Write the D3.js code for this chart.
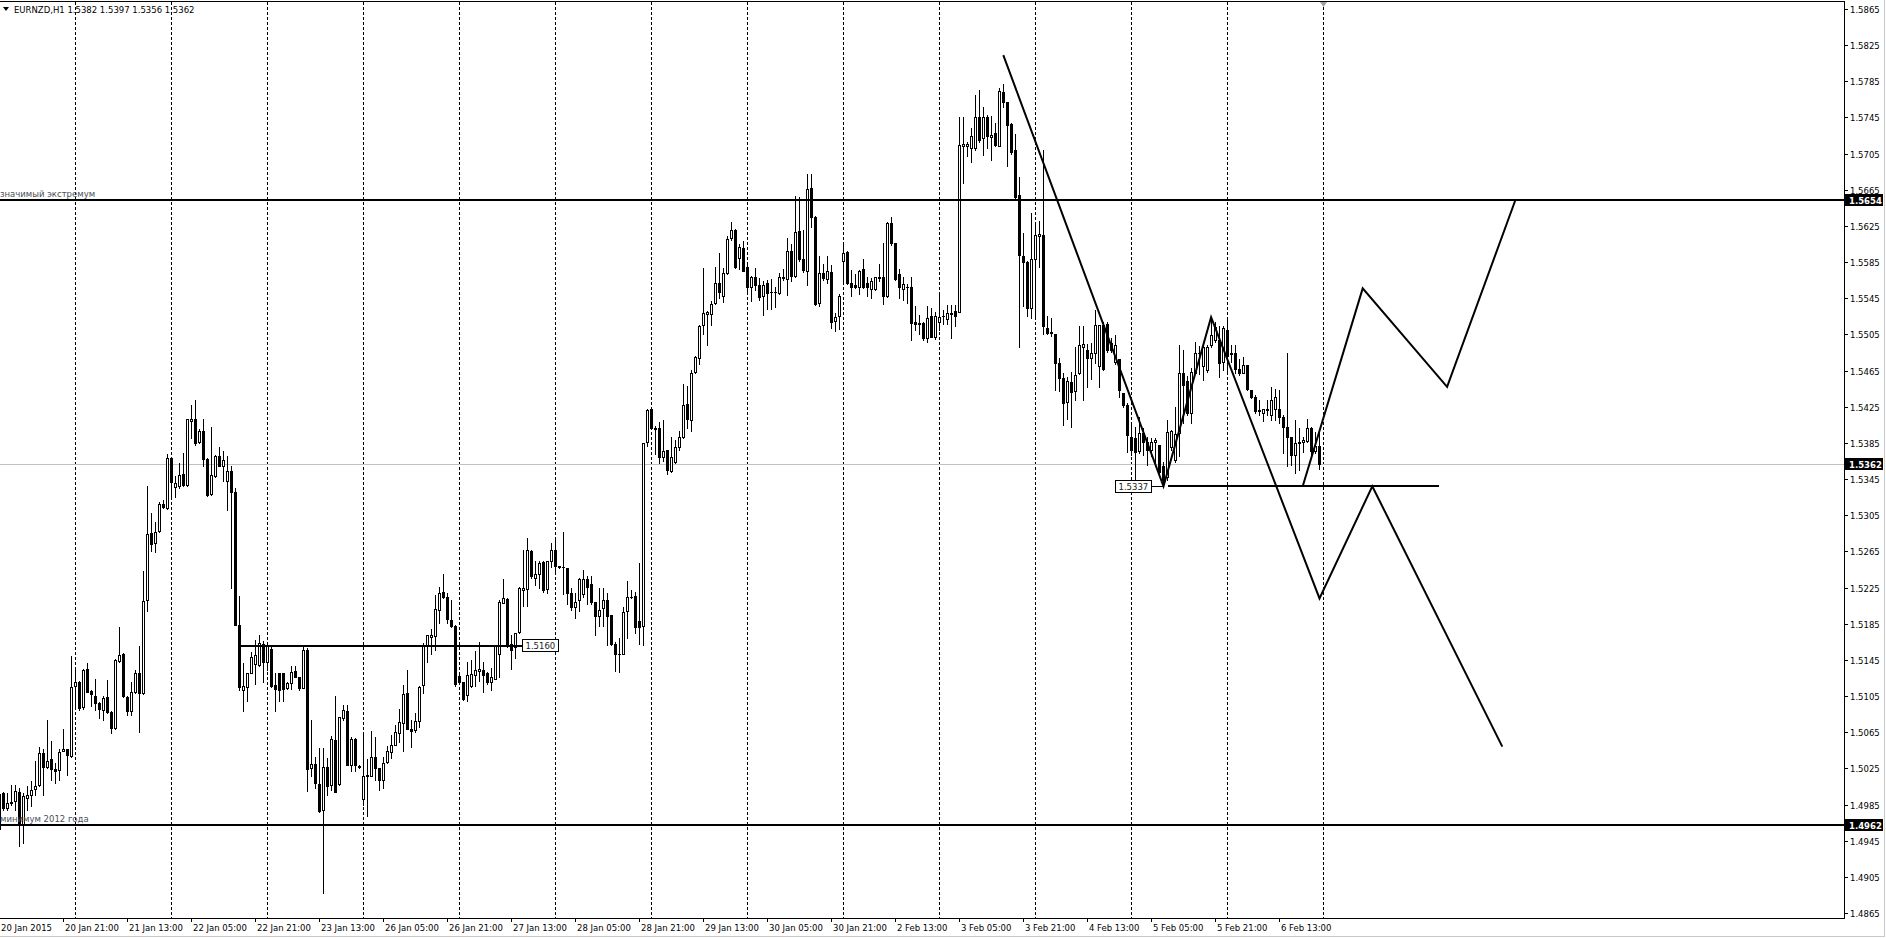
<!DOCTYPE html>
<html>
<head>
<meta charset="utf-8">
<script src="https://cdn.jsdelivr.net/npm/d3@7"></script>
<style>
body { margin: 0; background: #fff; }
svg { display: block; }
text { font-family: "DejaVu Sans", sans-serif; font-size: 8.5px; }
</style>
</head>
<body>
<script>
// EURNZD H1, one entry per hourly bar, first bar 20 Jan 2015 05:00
var opens = [
1.4958,1.4998,1.4981,1.4987,1.4989,1.4999,1.4963,1.4992,1.4995,1.5002,
1.5007,1.5042,1.5027,1.5035,1.5024,1.5023,1.5044,1.5046,1.5039,1.5116,
1.5121,1.5093,1.5135,1.5111,1.5105,1.5097,1.5090,1.5104,1.5087,1.5070,
1.5144,1.5152,1.5104,1.5089,1.5109,1.5131,1.5108,1.5211,1.5285,1.5274,
1.5288,1.5317,1.5313,1.5368,1.5336,1.5337,1.5351,1.5338,1.5409,1.5411,
1.5386,1.5398,1.5367,1.5328,1.5348,1.5371,1.5360,1.5343,1.5354,1.5331,
1.5184,1.5112,1.5115,1.5131,1.5140,1.5139,1.5163,1.5143,1.5157,1.5117,
1.5131,1.5131,1.5114,1.5119,1.5133,1.5126,1.5114,1.5156,1.5025,1.5030,
1.5008,1.4979,1.5026,1.5007,1.5056,1.5008,1.5081,1.5088,1.5029,1.5058,
1.5026,1.4991,1.5016,1.5017,1.5038,1.5025,1.5012,1.5032,1.5043,1.5051,
1.5064,1.5075,1.5108,1.5069,1.5067,1.5077,1.5117,1.5162,1.5170,1.5171,
1.5200,1.5220,1.5215,1.5189,1.5183,1.5127,1.5120,1.5106,1.5116,1.5128,
1.5133,1.5134,1.5130,1.5120,1.5124,1.5151,1.5208,1.5212,1.5163,1.5159,
1.5176,1.5222,1.5223,1.5265,1.5236,1.5240,1.5253,1.5223,1.5254,1.5267,
1.5249,1.5248,1.5247,1.5219,1.5203,1.5211,1.5218,1.5234,1.5229,1.5209,
1.5193,1.5202,1.5211,1.5195,1.5163,1.5151,1.5152,1.5199,1.5215,1.5216,
1.5188,1.5182,1.5386,1.5422,1.5402,1.5402,1.5369,1.5377,1.5354,1.5364,
1.5380,1.5392,1.5428,1.5410,1.5463,1.5479,1.5515,1.5528,1.5528,1.5540,
1.5562,1.5547,1.5573,1.5612,1.5620,1.5590,1.5601,1.5580,1.5558,1.5568,
1.5560,1.5547,1.5562,1.5552,1.5552,1.5551,1.5567,1.5566,1.5597,1.5570,
1.5619,1.5589,1.5575,1.5667,1.5635,1.5540,1.5573,1.5566,1.5574,1.5520,
1.5525,1.5586,1.5596,1.5562,1.5560,1.5558,1.5577,1.5562,1.5555,1.5555,
1.5568,1.5568,1.5547,1.5628,1.5606,1.5572,1.5555,1.5557,1.5558,1.5519,
1.5518,1.5518,1.5501,1.5525,1.5502,1.5519,1.5525,1.5522,1.5529,1.5531,
1.5530,1.5714,1.5714,1.5711,1.5711,1.5746,1.5722,1.5746,1.5723,1.5728,
1.5714,1.5773,1.5762,1.5738,1.5709,1.5659,1.5592,1.5585,1.5534,1.5589,
1.5614,1.5615,1.5512,1.5507,1.5506,1.5473,1.5457,1.5430,1.5452,1.5442,
1.5462,1.5491,1.5488,1.5479,1.5484,1.5470,1.5515,1.5517,1.5495,1.5474,
1.5478,1.5440,1.5427,1.5392,1.5390,1.5376,1.5396,1.5386,1.5377,1.5386,
1.5383,1.5360,1.5347,1.5381,1.5366,1.5396,1.5462,1.5453,1.5418,1.5462,
1.5484,1.5470,1.5466,1.5493,1.5499,1.5499,1.5475,1.5510,1.5485,1.5484,
1.5467,1.5462,1.5471,1.5444,1.5436,1.5420,1.5418,1.5422,1.5416,1.5422,
1.5422,1.5414,1.5403,1.5392,1.5372,1.5385,1.5386,1.5387,1.5401,1.5376,
1.5382
];
var highs = [
1.4990,1.4999,1.4998,1.5007,1.5007,1.5003,1.4998,1.5005,1.5011,1.5033,
1.5049,1.5046,1.5079,1.5055,1.5031,1.5046,1.5068,1.5046,1.5149,1.5134,
1.5122,1.5135,1.5142,1.5112,1.5124,1.5098,1.5105,1.5123,1.5088,1.5146,
1.5181,1.5153,1.5105,1.5121,1.5134,1.5160,1.5243,1.5337,1.5308,1.5298,
1.5320,1.5322,1.5373,1.5368,1.5348,1.5363,1.5374,1.5411,1.5427,1.5432,
1.5400,1.5411,1.5368,1.5403,1.5372,1.5381,1.5376,1.5371,1.5360,1.5335,
1.5216,1.5142,1.5131,1.5154,1.5167,1.5172,1.5166,1.5164,1.5160,1.5131,
1.5131,1.5131,1.5121,1.5138,1.5138,1.5126,1.5161,1.5158,1.5079,1.5038,
1.5048,1.5048,1.5037,1.5061,1.5105,1.5082,1.5095,1.5095,1.5060,1.5059,
1.5029,1.5065,1.5035,1.5066,1.5060,1.5025,1.5038,1.5050,1.5062,1.5073,
1.5091,1.5117,1.5134,1.5079,1.5086,1.5116,1.5164,1.5173,1.5179,1.5217,
1.5226,1.5240,1.5219,1.5211,1.5184,1.5129,1.5121,1.5143,1.5145,1.5155,
1.5165,1.5143,1.5132,1.5136,1.5161,1.5211,1.5234,1.5213,1.5173,1.5175,
1.5226,1.5267,1.5280,1.5266,1.5254,1.5254,1.5254,1.5254,1.5274,1.5278,
1.5249,1.5286,1.5247,1.5224,1.5219,1.5236,1.5244,1.5238,1.5238,1.5209,
1.5224,1.5224,1.5219,1.5195,1.5165,1.5169,1.5203,1.5232,1.5222,1.5220,
1.5252,1.5385,1.5422,1.5423,1.5404,1.5408,1.5410,1.5377,1.5392,1.5388,
1.5398,1.5450,1.5448,1.5466,1.5481,1.5515,1.5578,1.5531,1.5542,1.5580,
1.5595,1.5578,1.5614,1.5629,1.5622,1.5605,1.5608,1.5582,1.5570,1.5578,
1.5567,1.5564,1.5565,1.5566,1.5558,1.5573,1.5577,1.5612,1.5605,1.5658,
1.5657,1.5620,1.5683,1.5682,1.5636,1.5592,1.5583,1.5592,1.5582,1.5529,
1.5550,1.5604,1.5597,1.5576,1.5572,1.5576,1.5588,1.5568,1.5567,1.5568,
1.5583,1.5606,1.5629,1.5635,1.5606,1.5577,1.5568,1.5561,1.5569,1.5536,
1.5527,1.5519,1.5536,1.5534,1.5530,1.5552,1.5532,1.5538,1.5538,1.5538,
1.5746,1.5746,1.5718,1.5733,1.5770,1.5775,1.5757,1.5748,1.5747,1.5739,
1.5778,1.5782,1.5762,1.5739,1.5727,1.5679,1.5617,1.5586,1.5639,1.5626,
1.5630,1.5709,1.5525,1.5523,1.5506,1.5479,1.5462,1.5458,1.5464,1.5491,
1.5514,1.5514,1.5494,1.5495,1.5532,1.5515,1.5519,1.5519,1.5501,1.5504,
1.5478,1.5440,1.5429,1.5407,1.5403,1.5414,1.5401,1.5392,1.5390,1.5390,
1.5383,1.5364,1.5410,1.5399,1.5425,1.5493,1.5488,1.5459,1.5468,1.5497,
1.5492,1.5495,1.5493,1.5523,1.5519,1.5514,1.5514,1.5521,1.5493,1.5493,
1.5478,1.5480,1.5471,1.5444,1.5438,1.5433,1.5423,1.5433,1.5447,1.5445,
1.5444,1.5416,1.5484,1.5392,1.5410,1.5401,1.5391,1.5412,1.5403,1.5397,
1.5397
];
var lows = [
1.4946,1.4979,1.4979,1.4985,1.4979,1.4939,1.4942,1.4979,1.4983,1.4996,
1.5005,1.4996,1.5025,1.5012,1.5009,1.5012,1.5044,1.5018,1.5038,1.5094,
1.5090,1.5091,1.5109,1.5094,1.5090,1.5081,1.5079,1.5086,1.5064,1.5069,
1.5143,1.5104,1.5084,1.5084,1.5108,1.5065,1.5107,1.5199,1.5265,1.5264,
1.5287,1.5313,1.5312,1.5324,1.5325,1.5335,1.5337,1.5337,1.5390,1.5383,
1.5385,1.5360,1.5326,1.5327,1.5347,1.5359,1.5343,1.5311,1.5225,1.5184,
1.5112,1.5089,1.5099,1.5130,1.5118,1.5138,1.5121,1.5134,1.5115,1.5089,
1.5099,1.5099,1.5113,1.5113,1.5126,1.5112,1.5114,1.5000,1.5016,1.5003,
1.4977,1.4887,1.4996,1.5001,1.4999,1.5007,1.5079,1.5029,1.5022,1.5022,
1.5025,1.4985,1.4972,1.5016,1.5012,1.5001,1.5003,1.5031,1.5037,1.5051,
1.5054,1.5044,1.5068,1.5049,1.5065,1.5071,1.5108,1.5143,1.5151,1.5156,
1.5186,1.5213,1.5186,1.5181,1.5116,1.5118,1.5101,1.5100,1.5115,1.5116,
1.5122,1.5110,1.5118,1.5112,1.5124,1.5126,1.5208,1.5159,1.5135,1.5147,
1.5175,1.5205,1.5205,1.5236,1.5228,1.5225,1.5220,1.5219,1.5248,1.5242,
1.5247,1.5218,1.5207,1.5200,1.5191,1.5199,1.5215,1.5207,1.5207,1.5173,
1.5183,1.5183,1.5161,1.5161,1.5133,1.5132,1.5151,1.5169,1.5214,1.5175,
1.5163,1.5161,1.5382,1.5401,1.5373,1.5363,1.5365,1.5351,1.5353,1.5363,
1.5377,1.5390,1.5402,1.5398,1.5462,1.5472,1.5505,1.5493,1.5515,1.5539,
1.5545,1.5541,1.5572,1.5610,1.5578,1.5577,1.5575,1.5550,1.5542,1.5554,
1.5543,1.5526,1.5533,1.5533,1.5535,1.5550,1.5565,1.5549,1.5564,1.5569,
1.5586,1.5574,1.5560,1.5624,1.5538,1.5537,1.5565,1.5562,1.5512,1.5509,
1.5511,1.5562,1.5561,1.5548,1.5556,1.5550,1.5556,1.5547,1.5545,1.5554,
1.5564,1.5539,1.5546,1.5604,1.5565,1.5545,1.5543,1.5540,1.5499,1.5510,
1.5506,1.5499,1.5497,1.5502,1.5500,1.5510,1.5517,1.5517,1.5501,1.5514,
1.5530,1.5672,1.5702,1.5696,1.5709,1.5718,1.5703,1.5711,1.5698,1.5713,
1.5713,1.5757,1.5691,1.5705,1.5656,1.5491,1.5536,1.5525,1.5523,1.5523,
1.5580,1.5506,1.5505,1.5503,1.5444,1.5442,1.5405,1.5412,1.5403,1.5432,
1.5461,1.5432,1.5447,1.5456,1.5473,1.5447,1.5466,1.5486,1.5486,1.5472,
1.5436,1.5425,1.5375,1.5372,1.5344,1.5374,1.5372,1.5361,1.5370,1.5359,
1.5351,1.5337,1.5344,1.5377,1.5364,1.5370,1.5407,1.5416,1.5407,1.5462,
1.5461,1.5455,1.5464,1.5491,1.5497,1.5458,1.5466,1.5461,1.5475,1.5462,
1.5460,1.5462,1.5443,1.5435,1.5418,1.5416,1.5409,1.5416,1.5410,1.5410,
1.5407,1.5374,1.5359,1.5361,1.5352,1.5355,1.5375,1.5386,1.5370,1.5374,
1.5356
];
var closes = [
1.4997,1.4981,1.4987,1.4988,1.5000,1.4963,1.4994,1.4996,1.5001,1.5006,
1.5042,1.5027,1.5033,1.5024,1.5022,1.5043,1.5046,1.5040,1.5115,1.5120,
1.5092,1.5134,1.5110,1.5107,1.5097,1.5091,1.5103,1.5087,1.5070,1.5145,
1.5150,1.5105,1.5089,1.5109,1.5131,1.5108,1.5210,1.5284,1.5273,1.5287,
1.5317,1.5314,1.5368,1.5342,1.5341,1.5350,1.5338,1.5411,1.5411,1.5385,
1.5398,1.5367,1.5327,1.5349,1.5371,1.5360,1.5366,1.5354,1.5331,1.5184,
1.5115,1.5116,1.5131,1.5148,1.5150,1.5164,1.5143,1.5161,1.5116,1.5113,
1.5112,1.5113,1.5119,1.5132,1.5126,1.5114,1.5156,1.5024,1.5030,1.5009,
1.4978,1.5027,1.5006,1.5057,1.4999,1.5082,1.5090,1.5029,1.5058,1.5029,
1.5028,1.5017,1.5018,1.5038,1.5025,1.5012,1.5031,1.5044,1.5051,1.5065,
1.5076,1.5107,1.5068,1.5066,1.5077,1.5115,1.5162,1.5172,1.5172,1.5201,
1.5219,1.5215,1.5190,1.5182,1.5118,1.5120,1.5102,1.5128,1.5129,1.5134,
1.5135,1.5128,1.5120,1.5126,1.5160,1.5209,1.5213,1.5162,1.5156,1.5175,
1.5224,1.5224,1.5266,1.5238,1.5240,1.5252,1.5222,1.5254,1.5266,1.5249,
1.5248,1.5248,1.5219,1.5204,1.5209,1.5234,1.5235,1.5226,1.5209,1.5193,
1.5200,1.5211,1.5194,1.5163,1.5151,1.5152,1.5198,1.5215,1.5215,1.5181,
1.5181,1.5385,1.5421,1.5401,1.5400,1.5369,1.5376,1.5355,1.5369,1.5380,
1.5392,1.5427,1.5411,1.5462,1.5480,1.5514,1.5529,1.5530,1.5539,1.5562,
1.5552,1.5573,1.5611,1.5621,1.5580,1.5602,1.5575,1.5557,1.5568,1.5560,
1.5546,1.5560,1.5551,1.5552,1.5552,1.5568,1.5569,1.5597,1.5570,1.5618,
1.5588,1.5576,1.5666,1.5635,1.5539,1.5573,1.5567,1.5575,1.5519,1.5524,
1.5547,1.5595,1.5562,1.5558,1.5557,1.5575,1.5558,1.5558,1.5564,1.5568,
1.5567,1.5547,1.5628,1.5606,1.5566,1.5558,1.5561,1.5558,1.5518,1.5517,
1.5517,1.5501,1.5523,1.5502,1.5525,1.5524,1.5525,1.5529,1.5528,1.5525,
1.5715,1.5716,1.5716,1.5724,1.5746,1.5720,1.5745,1.5724,1.5726,1.5715,
1.5774,1.5762,1.5737,1.5707,1.5657,1.5593,1.5585,1.5534,1.5589,1.5615,
1.5616,1.5514,1.5507,1.5508,1.5473,1.5457,1.5429,1.5453,1.5441,1.5460,
1.5493,1.5494,1.5479,1.5484,1.5515,1.5515,1.5467,1.5488,1.5488,1.5493,
1.5444,1.5427,1.5394,1.5377,1.5375,1.5396,1.5386,1.5377,1.5386,1.5388,
1.5353,1.5344,1.5397,1.5398,1.5395,1.5462,1.5449,1.5418,1.5464,1.5484,
1.5485,1.5491,1.5491,1.5504,1.5513,1.5473,1.5512,1.5481,1.5483,1.5467,
1.5462,1.5471,1.5445,1.5436,1.5420,1.5421,1.5422,1.5421,1.5432,1.5436,
1.5414,1.5403,1.5392,1.5372,1.5385,1.5386,1.5388,1.5401,1.5376,1.5382,
1.5362
];

// time axis labels, one every 16 bars
var timeLabels = ["20 Jan 2015", "20 Jan 21:00", "21 Jan 13:00", "22 Jan 05:00", "22 Jan 21:00",
  "23 Jan 13:00", "26 Jan 05:00", "26 Jan 21:00", "27 Jan 13:00", "28 Jan 05:00", "28 Jan 21:00",
  "29 Jan 13:00", "30 Jan 05:00", "30 Jan 21:00", "2 Feb 13:00", "3 Feb 05:00", "3 Feb 21:00",
  "4 Feb 13:00", "5 Feb 05:00", "5 Feb 21:00", "6 Feb 13:00"];

var priceTicks = [1.5865, 1.5825, 1.5785, 1.5745, 1.5705, 1.5665, 1.5625, 1.5585, 1.5545, 1.5505,
  1.5465, 1.5425, 1.5385, 1.5345, 1.5305, 1.5265, 1.5225, 1.5185, 1.5145, 1.5105, 1.5065,
  1.5025, 1.4985, 1.4945, 1.4905, 1.4865];

// horizontal levels across the whole chart
var levelPrices = [1.5654, 1.4962];
var levelNames = ["значимый экстремум", "минимум 2012 года"];

// short horizontal segments: [startBar, endBar, price]
var segments = [[60, 130.5, 1.5160], [292, 359.8, 1.5337]];

// drawn projections: [bar, price] points
var zigzagA = [[250.95, 1.5814], [291, 1.5337], [302.9, 1.5524], [330, 1.5213], [343.2, 1.5337], [375.7, 1.5049]];
var zigzagB = [[325.8, 1.5337], [340.8, 1.5556], [361.9, 1.5447], [379, 1.5654]];

(function() {

	var W = 1886, H = 938;
	var plotRight = 1844, plotTop = 2, plotBottom = 918;
	var last = closes.length - 1;

	// 4 px per bar
	var x = d3.scaleLinear().domain([0, 461]).range([-0.5, 1843.5]);
	var y = d3.scaleLinear().domain([1.4865, 1.5865]).range([913, 9]);

	var px = function(i) { return Math.round(x(i) - 0.5); };
	var py = function(p) { return Math.round(y(p)); };

	var svg = d3.select("body")
		.append("svg")
		.attr("width", W)
		.attr("height", H);

	svg.append("rect").attr("width", W).attr("height", H).attr("fill", "#fff");

	svg.append("defs").append("clipPath").attr("id", "plot")
		.append("rect").attr("x", 0).attr("y", plotTop).attr("width", plotRight).attr("height", plotBottom - plotTop);

	var plot = svg.append("g").attr("clip-path", "url(#plot)").attr("shape-rendering", "crispEdges");

	// vertical grid
	plot.selectAll(".grid")
		.data(d3.range(19, last + 2, 24))
	.enter().append("line")
		.attr("class", "grid")
		.attr("x1", function(d) { return px(d) + 0.5; })
		.attr("x2", function(d) { return px(d) + 0.5; })
		.attr("y1", plotTop)
		.attr("y2", plotBottom)
		.attr("stroke", "#000")
		.attr("stroke-dasharray", "3,2");

	// bid line
	plot.append("rect")
		.attr("x", 0).attr("width", plotRight)
		.attr("y", py(closes[last])).attr("height", 1)
		.attr("fill", "#c0c0c0");

	// candles
	var idx = d3.range(closes.length);
	var candle = plot.selectAll(".candle")
		.data(idx)
	.enter().append("g")
		.attr("class", "candle");

	candle.append("rect")
		.attr("x", function(i) { return px(i); })
		.attr("width", 1)
		.attr("y", function(i) { return py(highs[i]); })
		.attr("height", function(i) { return py(lows[i]) - py(highs[i]) + 1; })
		.attr("fill", "#000");

	candle.append("rect")
		.attr("x", function(i) { return px(i) - 1; })
		.attr("width", 3)
		.attr("y", function(i) { return py(Math.max(opens[i], closes[i])); })
		.attr("height", function(i) { return py(Math.min(opens[i], closes[i])) - py(Math.max(opens[i], closes[i])) + 1; })
		.attr("fill", "#000");

	candle.filter(function(i) { return closes[i] > opens[i] && py(opens[i]) - py(closes[i]) >= 2; })
		.append("rect")
		.attr("x", function(i) { return px(i); })
		.attr("width", 1)
		.attr("y", function(i) { return py(closes[i]) + 1; })
		.attr("height", function(i) { return py(opens[i]) - py(closes[i]) - 1; })
		.attr("fill", "#fff");

	// level lines with their names
	levelPrices.forEach(function(p, k) {
		plot.append("rect")
			.attr("x", 0).attr("width", plotRight)
			.attr("y", py(p) - 1).attr("height", 2)
			.attr("fill", "#000");
		svg.append("text")
			.attr("x", 0)
			.attr("y", py(p) - 3)
			.attr("fill", "#4a4f57")
			.text(levelNames[k]);
	});

	// horizontal segments
	segments.forEach(function(s) {
		plot.append("rect")
			.attr("x", x(s[0])).attr("width", x(s[1]) - x(s[0]))
			.attr("y", py(s[2]) - 1).attr("height", 2)
			.attr("fill", "#000");
	});

	// price tags on the segments
	var fmt = d3.format(".4f");
	var tagA = svg.append("g").attr("transform", "translate(" + (Math.round(x(segments[0][1])) + 0.5) + "," + (py(segments[0][2]) - 6.5) + ")");
	tagA.append("rect").attr("width", 36).attr("height", 12).attr("fill", "#fff").attr("stroke", "#000");
	tagA.append("text").attr("x", 3).attr("y", 9.5).attr("fill", "#222").text(fmt(segments[0][2]));

	var lowBar = 291;
	var tagB = svg.append("g").attr("transform", "translate(" + (px(lowBar) - 47.5) + "," + (py(lows[lowBar]) - 5.5) + ")");
	tagB.append("rect").attr("width", 36).attr("height", 12).attr("fill", "#fff").attr("stroke", "#000");
	tagB.append("text").attr("x", 3).attr("y", 9.5).attr("fill", "#222").text(fmt(lows[lowBar]));
	svg.append("line")
		.attr("x1", px(lowBar) - 11.5).attr("x2", px(lowBar))
		.attr("y1", py(lows[lowBar]) + 0.5).attr("y2", py(lows[lowBar]) + 0.5)
		.attr("stroke", "#000");

	// zigzag projections
	var line = d3.line()
		.x(function(d) { return x(d[0]); })
		.y(function(d) { return y(d[1]); });

	[zigzagA, zigzagB].forEach(function(z) {
		svg.append("path")
			.attr("d", line(z))
			.attr("fill", "none")
			.attr("stroke", "#000")
			.attr("stroke-width", 2)
			.attr("stroke-linejoin", "miter");
	});

	// frame
	var frame = svg.append("g").attr("shape-rendering", "crispEdges");
	frame.append("line").attr("x1", 0).attr("x2", plotRight + 1).attr("y1", 1.5).attr("y2", 1.5).attr("stroke", "#000");
	frame.append("line").attr("x1", plotRight + 0.5).attr("x2", plotRight + 0.5).attr("y1", 1).attr("y2", plotBottom + 1).attr("stroke", "#000");
	frame.append("line").attr("x1", 0).attr("x2", plotRight + 1).attr("y1", plotBottom + 0.5).attr("y2", plotBottom + 0.5).attr("stroke", "#000");
	frame.append("line").attr("x1", 1884.5).attr("x2", 1884.5).attr("y1", 0).attr("y2", 937).attr("stroke", "#c8c8c8");
	frame.append("line").attr("x1", 0).attr("x2", 1885).attr("y1", 936.5).attr("y2", 936.5).attr("stroke", "#c8c8c8");

	// price axis
	var pAxis = svg.append("g");
	pAxis.selectAll(".ptick")
		.data(priceTicks)
	.enter().append("rect")
		.attr("x", plotRight + 1).attr("width", 3)
		.attr("y", function(d) { return py(d); }).attr("height", 1)
		.attr("fill", "#000");
	pAxis.selectAll(".plabel")
		.data(priceTicks)
	.enter().append("text")
		.attr("x", 1850)
		.attr("y", function(d) { return py(d) + 3.5; })
		.attr("fill", "#000")
		.text(function(d) { return fmt(d); });

	// black tags on the price axis
	var tags = levelPrices.concat([closes[last]]);
	var pTag = pAxis.selectAll(".ptag")
		.data(tags)
	.enter().append("g")
		.attr("transform", function(d) { return "translate(" + (plotRight + 1) + "," + (py(d) - 6) + ")"; });
	pTag.append("rect").attr("width", 38).attr("height", 12).attr("fill", "#000");
	pTag.append("text")
		.attr("x", 4).attr("y", 9.5)
		.attr("fill", "#fff")
		.style("font-weight", "bold")
		.text(function(d) { return fmt(d); });

	// time axis
	var tAxis = svg.append("g");
	tAxis.selectAll(".ttick")
		.data(timeLabels)
	.enter().append("rect")
		.attr("x", function(d, k) { return px(16 * k); }).attr("width", 1)
		.attr("y", plotBottom + 1).attr("height", 3)
		.attr("fill", "#000");
	tAxis.selectAll(".tlabel")
		.data(timeLabels)
	.enter().append("text")
		.attr("x", function(d, k) { return px(16 * k) + 2; })
		.attr("y", 931)
		.attr("fill", "#000")
		.text(function(d) { return d; });

	// chart header
	svg.append("path").attr("d", "M3,7 L9,7 L6,11 Z").attr("fill", "#000");
	svg.append("text")
		.attr("x", 14).attr("y", 13)
		.attr("fill", "#000")
		.text("EURNZD,H1  " + [opens[last], highs[last], lows[last], closes[last]].map(fmt).join(" "));

	// chart shift marker
	svg.append("path")
		.attr("d", "M" + (px(last + 1) - 3) + ",2 L" + (px(last + 1) + 4) + ",2 L" + (px(last + 1) + 0.5) + ",7 Z")
		.attr("fill", "#a0a0a0");

})();
</script>
</body>
</html>
